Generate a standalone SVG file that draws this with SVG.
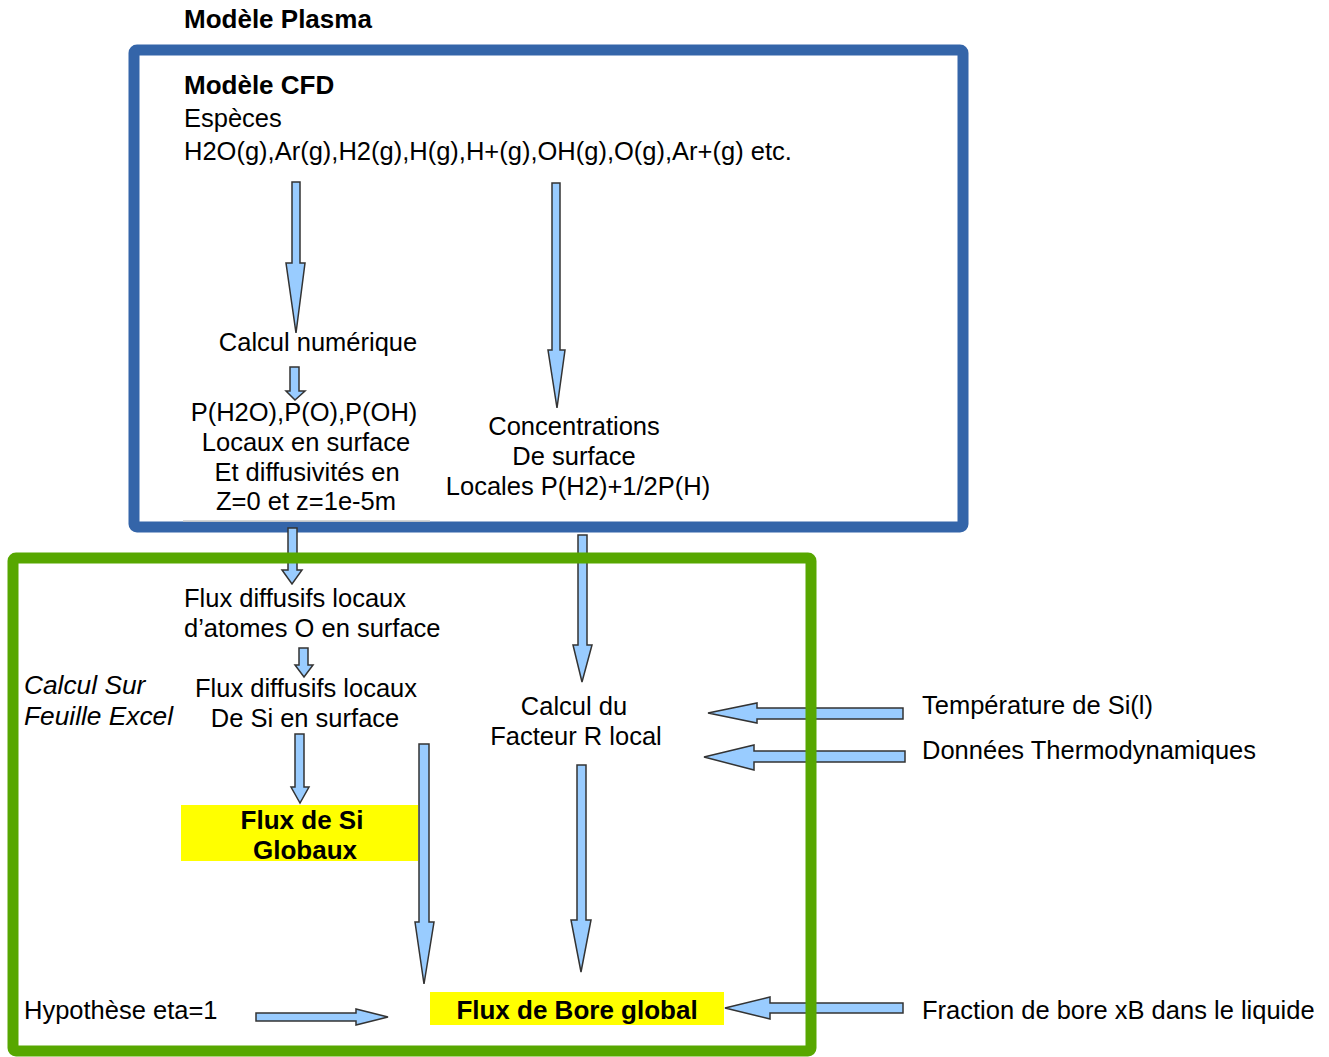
<svg xmlns="http://www.w3.org/2000/svg" width="1329" height="1057" viewBox="0 0 1329 1057">
<style>
text{font-family:"Liberation Sans",Arial,sans-serif;font-size:25.5px;fill:#000}
.b{font-weight:bold;font-size:26px}
.i{font-style:italic;font-size:26.3px}
.m{text-anchor:middle}
.arr{fill:#99ccff;stroke:#333333;stroke-width:1.5;stroke-linejoin:miter}
.box{fill:none;stroke-width:11}
.hl{fill:#ffff00}
</style>
<rect width="1329" height="1057" fill="#ffffff"/>
<g id="plasma-label"><text class="b" x="184" y="28">Modèle Plasma</text></g>
<g id="cfd-box"><rect class="box" x="134" y="50" width="829" height="477" rx="3" stroke="#3465a9"/></g>
<g id="cfd-title">
<text class="b" x="184" y="94">Modèle CFD</text>
<text x="184" y="127">Espèces</text>
<text x="184" y="160">H2O(g),Ar(g),H2(g),H(g),H+(g),OH(g),O(g),Ar+(g) etc.</text>
</g>
<g id="calcul-numerique"><text class="m" x="318" y="351">Calcul numérique</text></g>
<g id="pressions">
<text class="m" x="304" y="421">P(H2O),P(O),P(OH)</text>
<text class="m" x="306" y="451">Locaux en surface</text>
<text class="m" x="307" y="481">Et diffusivités en</text>
<text class="m" x="306" y="510">Z=0 et z=1e-5m</text>
<line x1="183" y1="521" x2="430" y2="521" stroke="#c8c8c8" stroke-width="1.5"/>
</g>
<g id="concentrations">
<text class="m" x="574" y="435">Concentrations</text>
<text class="m" x="574" y="465">De surface</text>
<text class="m" x="578" y="495">Locales P(H2)+1/2P(H)</text>
</g>
<g id="flux-o">
<text x="184" y="607">Flux diffusifs locaux</text>
<text x="184" y="637">d’atomes O en surface</text>
</g>
<g id="excel-label">
<text class="i" x="24" y="694">Calcul Sur</text>
<text class="i" x="24" y="725">Feuille Excel</text>
</g>
<g id="flux-si-local">
<text class="m" x="306" y="697">Flux diffusifs locaux</text>
<text class="m" x="305" y="727">De Si en surface</text>
</g>
<g id="facteur-r">
<text class="m" x="574" y="715">Calcul du</text>
<text class="m" x="576" y="745">Facteur R local</text>
</g>
<g id="temperature"><text x="922" y="714">Température de Si(l)</text></g>
<g id="thermo"><text x="922" y="759">Données Thermodynamiques</text></g>
<g id="flux-si-global">
<rect class="hl" x="181" y="805" width="237" height="56"/>
<text class="b m" x="302" y="829">Flux de Si</text>
<text class="b m" x="305" y="859">Globaux</text>
</g>
<g id="flux-bore">
<rect class="hl" x="430" y="992" width="294" height="33"/>
<text class="b m" x="577" y="1019">Flux de Bore global</text>
</g>
<g id="hypothese"><text x="24" y="1019">Hypothèse eta=1</text></g>
<g id="fraction-bore"><text x="922" y="1019">Fraction de bore xB dans le liquide</text></g>
<g id="connectors">
<polygon class="arr" points="292,182 300,182 300,263 305,263 296,333 286,263 292,263"/>
<polygon class="arr" points="552,183 560,183 560,350 565,350 557,408 548,350 552,350"/>
<polygon class="arr" points="290,367 299,367 299,391 305,391 295,400 286,391 290,391"/>
<polygon class="arr" points="288,528 297,528 297,570 302,570 292,584 282,570 288,570"/>
<polygon class="arr" points="578,535 587,535 587,645 592,645 582,682 573,645 578,645"/>
<polygon class="arr" points="299,648 308,648 308,665 313,665 304,677 295,665 299,665"/>
<polygon class="arr" points="295,734 304,734 304,787 309,787 300,803 291,787 295,787"/>
<polygon class="arr" points="419,744 429,744 429,922 434,922 424,984 415,922 419,922"/>
<polygon class="arr" points="577,765 586,765 586,920 591,920 581,972 571,920 577,920"/>
<polygon class="arr" points="903,708 903,719 757,719 757,723 708,713 757,703 757,708"/>
<polygon class="arr" points="905,751 905,762 754,762 754,770 704,757 754,745 754,751"/>
<polygon class="arr" points="903,1003 903,1013 770,1013 770,1019 725,1008 770,997 770,1003"/>
<polygon class="arr" points="256,1013 356,1013 356,1009 388,1017 356,1025 356,1021 256,1021"/>
</g>
<g id="excel-box"><rect class="box" x="13" y="558" width="798" height="493" rx="3" stroke="#57a700"/></g>
</svg>
